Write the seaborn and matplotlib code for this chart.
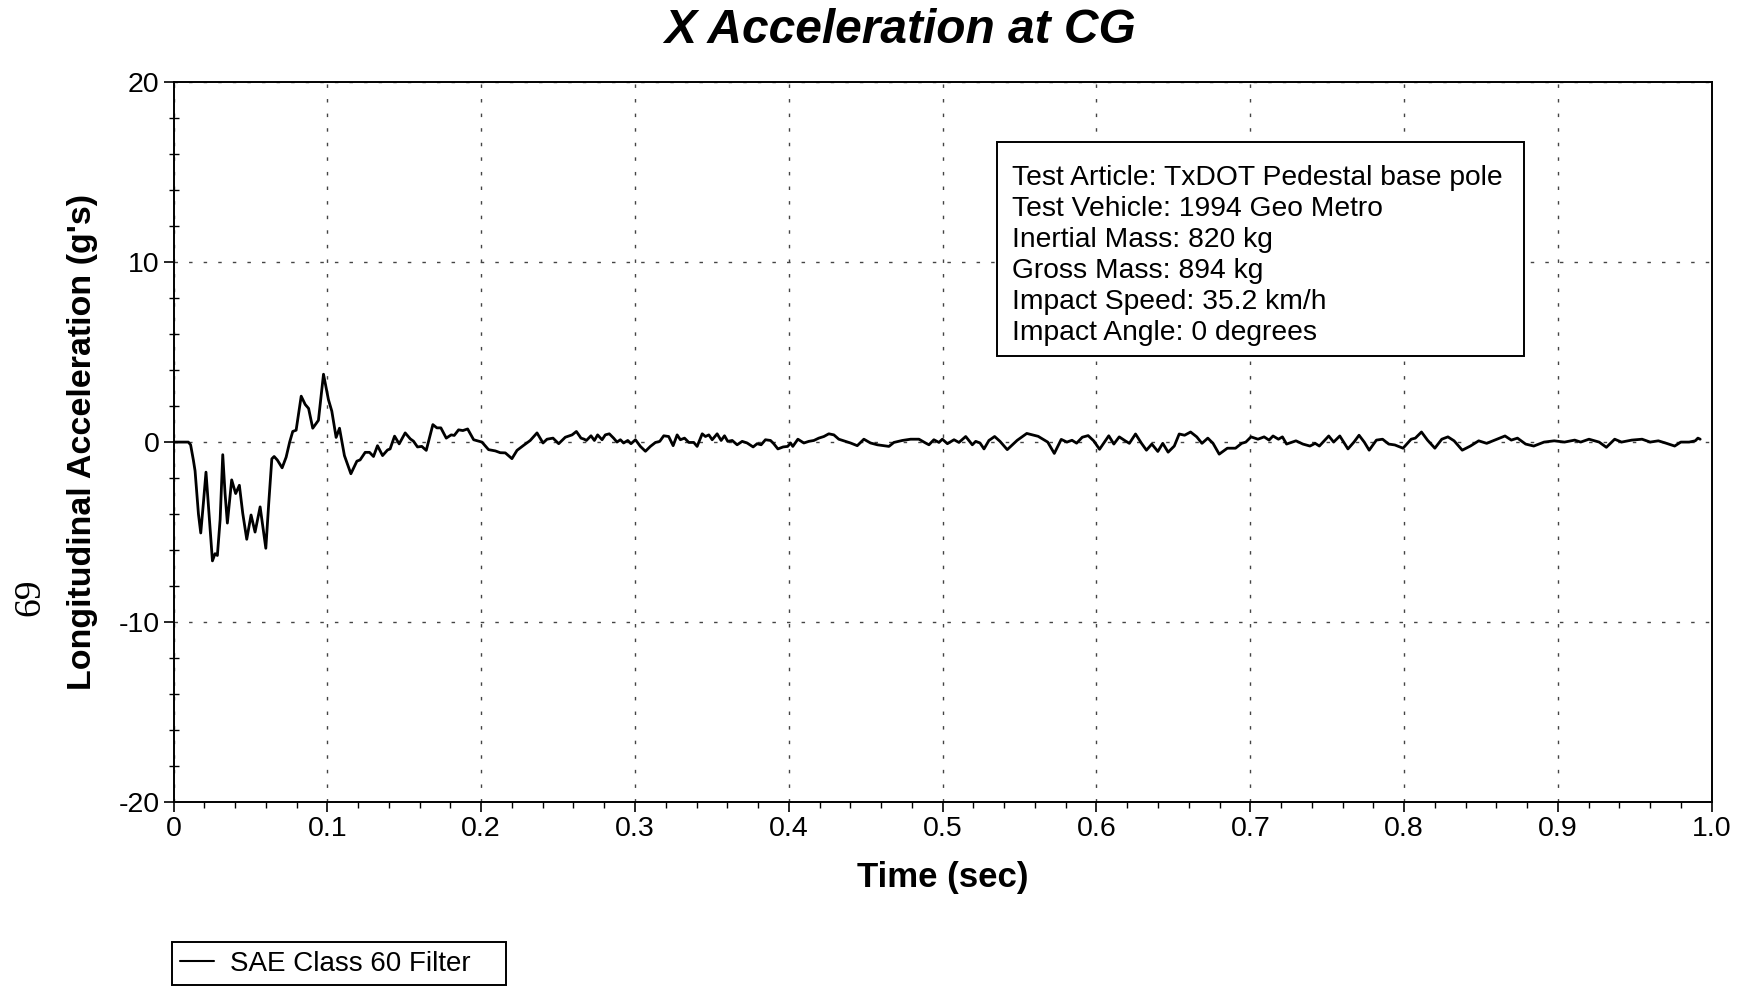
import numpy as np
import pandas as pd
import seaborn as sns
import matplotlib.pyplot as plt
from matplotlib.patches import Rectangle
from matplotlib.ticker import MultipleLocator

# values (time in s, accel in g's)
time_s = [
    0.000, 0.005, 0.0096, 0.0111, 0.0129, 0.0140, 0.0162, 0.0177, 0.0194, 0.0211,
    0.0229, 0.0253, 0.0270, 0.0285, 0.0303, 0.0320, 0.0335, 0.0350, 0.0378, 0.0404,
    0.0428, 0.0450, 0.0476, 0.0504, 0.0530, 0.0563, 0.0600, 0.0619, 0.0639, 0.0654,
    0.0675, 0.0706, 0.0732, 0.0755, 0.0775, 0.0797, 0.0830, 0.0856, 0.0878, 0.0905,
    0.0942, 0.0958, 0.0975, 0.1007, 0.1029, 0.1057, 0.1079, 0.1111, 0.1153, 0.1192,
    0.1213, 0.1246, 0.1274, 0.1300, 0.1326, 0.1359, 0.1391, 0.1408, 0.1437, 0.1467,
    0.1506, 0.1539, 0.1560, 0.1586, 0.1614, 0.1643, 0.1686, 0.1712, 0.1738, 0.1773,
    0.1805, 0.1825, 0.1853, 0.1881, 0.1912, 0.1951, 0.1983, 0.2005, 0.2048, 0.2092,
    0.2124, 0.2157, 0.2200, 0.2233, 0.2276, 0.2319, 0.2363, 0.2402, 0.2428, 0.2467,
    0.2504, 0.2547, 0.2591, 0.2619, 0.2649, 0.2670, 0.2684, 0.2714, 0.2736, 0.2757,
    0.2786, 0.2807, 0.2833, 0.2861, 0.2883, 0.2905, 0.2926, 0.2953, 0.2974, 0.3003,
    0.3035, 0.3068, 0.3100, 0.3133, 0.3161, 0.3187, 0.3219, 0.3248, 0.3274, 0.3295,
    0.3322, 0.3350, 0.3382, 0.3404, 0.3437, 0.3458, 0.3480, 0.3502, 0.3534, 0.3560,
    0.3582, 0.3603, 0.3632, 0.3664, 0.3697, 0.3729, 0.3768, 0.3794, 0.3820, 0.3848,
    0.3881, 0.3902, 0.3929, 0.3963, 0.3993, 0.4011, 0.4026, 0.4059, 0.4098, 0.4130,
    0.4163, 0.4195, 0.4228, 0.4260, 0.4293, 0.4325, 0.4369, 0.4401, 0.4445, 0.4488,
    0.4531, 0.4575, 0.4651, 0.4683, 0.4738, 0.4792, 0.4846, 0.4889, 0.4911, 0.4943,
    0.4976, 0.4998, 0.5031, 0.5074, 0.5106, 0.5150, 0.5193, 0.5215, 0.5243, 0.5269,
    0.5301, 0.5338, 0.5373, 0.5420, 0.5485, 0.5547, 0.5621, 0.5683, 0.5726, 0.5771,
    0.5808, 0.5841, 0.5871, 0.5908, 0.5946, 0.5983, 0.6020, 0.6080, 0.6113, 0.6148,
    0.6187, 0.6214, 0.6254, 0.6293, 0.6325, 0.6360, 0.6399, 0.6431, 0.6466, 0.6506,
    0.6538, 0.6573, 0.6612, 0.6652, 0.6686, 0.6724, 0.6758, 0.6798, 0.6851, 0.6904,
    0.6944, 0.6971, 0.7005, 0.7050, 0.7090, 0.7122, 0.7148, 0.7183, 0.7209, 0.7236,
    0.7297, 0.7342, 0.7388, 0.7422, 0.7449, 0.7510, 0.7542, 0.7582, 0.7635, 0.7674,
    0.7707, 0.7741, 0.7773, 0.7820, 0.7860, 0.7900, 0.7940, 0.7993, 0.8046, 0.8073,
    0.8113, 0.8152, 0.8200, 0.8245, 0.8285, 0.8325, 0.8378, 0.8431, 0.8485, 0.8537,
    0.8604, 0.8656, 0.8697, 0.8737, 0.8790, 0.8843, 0.8910, 0.8976, 0.9043, 0.9109,
    0.9148, 0.9202, 0.9268, 0.9315, 0.9369, 0.9414, 0.9480, 0.9547, 0.9600, 0.9653,
    0.9706, 0.9759, 0.9799, 0.9853, 0.9893, 0.9910, 0.9925,
]
accel_g = [
    0.00, 0.00, 0.00, -0.15, -1.00, -1.60, -4.00, -5.05, -3.40, -1.67,
    -3.80, -6.60, -6.20, -6.30, -4.30, -0.70, -2.86, -4.50, -2.10, -2.86,
    -2.40, -3.96, -5.40, -4.05, -5.00, -3.60, -5.90, -3.40, -0.93, -0.80,
    -1.00, -1.43, -0.84, 0.00, 0.59, 0.66, 2.55, 2.09, 1.87, 0.77,
    1.21, 2.45, 3.77, 2.36, 1.72, 0.26, 0.77, -0.75, -1.76, -1.06,
    -0.99, -0.57, -0.57, -0.80, -0.20, -0.75, -0.44, -0.38, 0.33, -0.10,
    0.51, 0.18, 0.05, -0.27, -0.24, -0.46, 0.97, 0.79, 0.79, 0.22,
    0.40, 0.37, 0.68, 0.64, 0.73, 0.13, 0.05, 0.00, -0.42, -0.49,
    -0.59, -0.60, -0.92, -0.46, -0.18, 0.09, 0.51, -0.05, 0.16, 0.22,
    -0.09, 0.27, 0.40, 0.59, 0.22, 0.16, 0.09, 0.35, 0.09, 0.40,
    0.13, 0.40, 0.46, 0.22, 0.00, 0.13, -0.05, 0.09, -0.09, 0.13,
    -0.24, -0.51, -0.24, -0.02, 0.04, 0.35, 0.31, -0.20, 0.40, 0.13,
    0.22, -0.02, -0.02, -0.24, 0.46, 0.31, 0.40, 0.13, 0.46, 0.09,
    0.35, 0.04, 0.09, -0.15, 0.04, -0.05, -0.27, -0.09, -0.15, 0.13,
    0.09, -0.09, -0.38, -0.27, -0.24, -0.05, -0.24, 0.16, -0.05, 0.04,
    0.09, 0.22, 0.31, 0.46, 0.40, 0.16, 0.04, -0.05, -0.20, 0.16,
    -0.05, -0.15, -0.24, -0.02, 0.09, 0.16, 0.16, -0.05, -0.15, 0.13,
    -0.02, 0.16, -0.09, 0.13, -0.02, 0.31, -0.15, 0.04, -0.05, -0.38,
    0.09, 0.31, 0.04, -0.42, 0.10, 0.48, 0.32, 0.00, -0.63, 0.15,
    0.00, 0.10, -0.06, 0.27, 0.36, 0.06, -0.40, 0.35, -0.11, 0.29,
    0.07, -0.07, 0.45, -0.07, -0.45, -0.11, -0.52, -0.07, -0.56, -0.22,
    0.45, 0.38, 0.56, 0.29, -0.07, 0.22, -0.07, -0.67, -0.34, -0.34,
    -0.07, 0.00, 0.29, 0.16, 0.29, 0.11, 0.34, 0.16, 0.29, -0.11,
    0.07, -0.11, -0.22, -0.07, -0.22, 0.34, 0.00, 0.34, -0.38, 0.00,
    0.38, 0.00, -0.45, 0.11, 0.16, -0.11, -0.16, -0.34, 0.16, 0.22,
    0.56, 0.11, -0.34, 0.16, 0.29, 0.07, -0.45, -0.22, 0.07, -0.07,
    0.16, 0.34, 0.11, 0.22, -0.11, -0.22, 0.00, 0.07, 0.00, 0.11,
    0.00, 0.16, 0.00, -0.29, 0.16, 0.00, 0.11, 0.16, 0.00, 0.07,
    -0.07, -0.22, 0.00, 0.00, 0.07, 0.22, 0.16,
]

x_ticks = [0, 0.1, 0.2, 0.3, 0.4, 0.5, 0.6, 0.7, 0.8, 0.9, 1.0]
x_tick_labels = ["0", "0.1", "0.2", "0.3", "0.4", "0.5", "0.6", "0.7", "0.8", "0.9", "1.0"]
y_ticks = [-20, -10, 0, 10, 20]
y_tick_labels = ["-20", "-10", "0", "10", "20"]

info_lines = [
    "Test Article: TxDOT Pedestal base pole",
    "Test Vehicle: 1994 Geo Metro",
    "Inertial Mass: 820 kg",
    "Gross Mass: 894 kg",
    "Impact Speed: 35.2 km/h",
    "Impact Angle: 0 degrees",
]

sns.set_style("ticks")
plt.rcParams["font.family"] = ["Liberation Sans", "DejaVu Sans"]
plt.rcParams["axes.unicode_minus"] = False
plt.rcParams["text.color"] = "black"
plt.rcParams["axes.labelcolor"] = "black"

df = pd.DataFrame({"time": time_s, "accel": accel_g})

fig = plt.figure(figsize=(17.44, 9.89), dpi=100)
ax = fig.add_axes([0.0995, 0.189, 0.882, 0.728])

sns.lineplot(data=df, x="time", y="accel", color="black", linewidth=2.0,
             estimator=None, sort=False, label="SAE Class 60 Filter", ax=ax)

ax.set_xlim(0, 1.0)
ax.set_ylim(-20, 20)
ax.set_xticks(x_ticks)
ax.set_xticklabels(x_tick_labels)
ax.set_yticks(y_ticks)
ax.set_yticklabels(y_tick_labels)
ax.xaxis.set_minor_locator(MultipleLocator(0.02))
ax.yaxis.set_minor_locator(MultipleLocator(2))

ax.grid(True, which="major", color="#444444", linewidth=1.0, linestyle=(0, (2.5, 8)))
for s in ax.spines.values():
    s.set_linewidth(1.4)
    s.set_color("black")

ax.tick_params(axis="both", which="major", labelsize=20.5, length=7, width=1.2,
               direction="out", pad=3, colors="black")
ax.tick_params(axis="x", which="minor", length=4.5, width=1.0, direction="out", colors="black")
ax.tick_params(axis="y", which="minor", length=7, width=1.0, direction="inout", colors="black")

ax.set_xlabel("Time (sec)", fontsize=25, fontweight="bold", color="black")
ax.set_ylabel("Longitudinal Acceleration (g's)", fontsize=24.5, fontweight="bold", color="black")
ax.xaxis.set_label_coords(0.5, -0.082)
ax.yaxis.set_label_coords(-0.049, 0.5)

fig.text(0.516, 0.969, "X Acceleration at CG", ha="center", va="center",
         fontsize=34.5, fontweight="bold", style="italic", color="black")

# info box
fig.add_artist(Rectangle((0.5717, 0.640), 0.3022, 0.2164, transform=fig.transFigure,
                         fill=True, facecolor="white", edgecolor="black", linewidth=1.4))
fig.text(0.5803, 0.833, "\n".join(info_lines), ha="left", va="top",
         fontsize=20.3, linespacing=1.25, color="black")

fig.text(0.0172, 0.396, "69", rotation=90, ha="center", va="center",
         fontsize=27, family="Liberation Serif", color="black")

leg = ax.legend(loc="lower left", bbox_to_anchor=(0.0986, 0.004, 0.1915, 0.05),
                bbox_transform=fig.transFigure, mode="expand", borderaxespad=0,
                fancybox=False, framealpha=1, edgecolor="black", fontsize=20,
                handlelength=1.2, handletextpad=0.6, borderpad=0.3)
leg.get_frame().set_linewidth(1.4)
for h in leg.get_lines():
    h.set_linewidth(1.5)
for t in leg.get_texts():
    t.set_color("black")

fig.savefig("out.png", dpi=100)
